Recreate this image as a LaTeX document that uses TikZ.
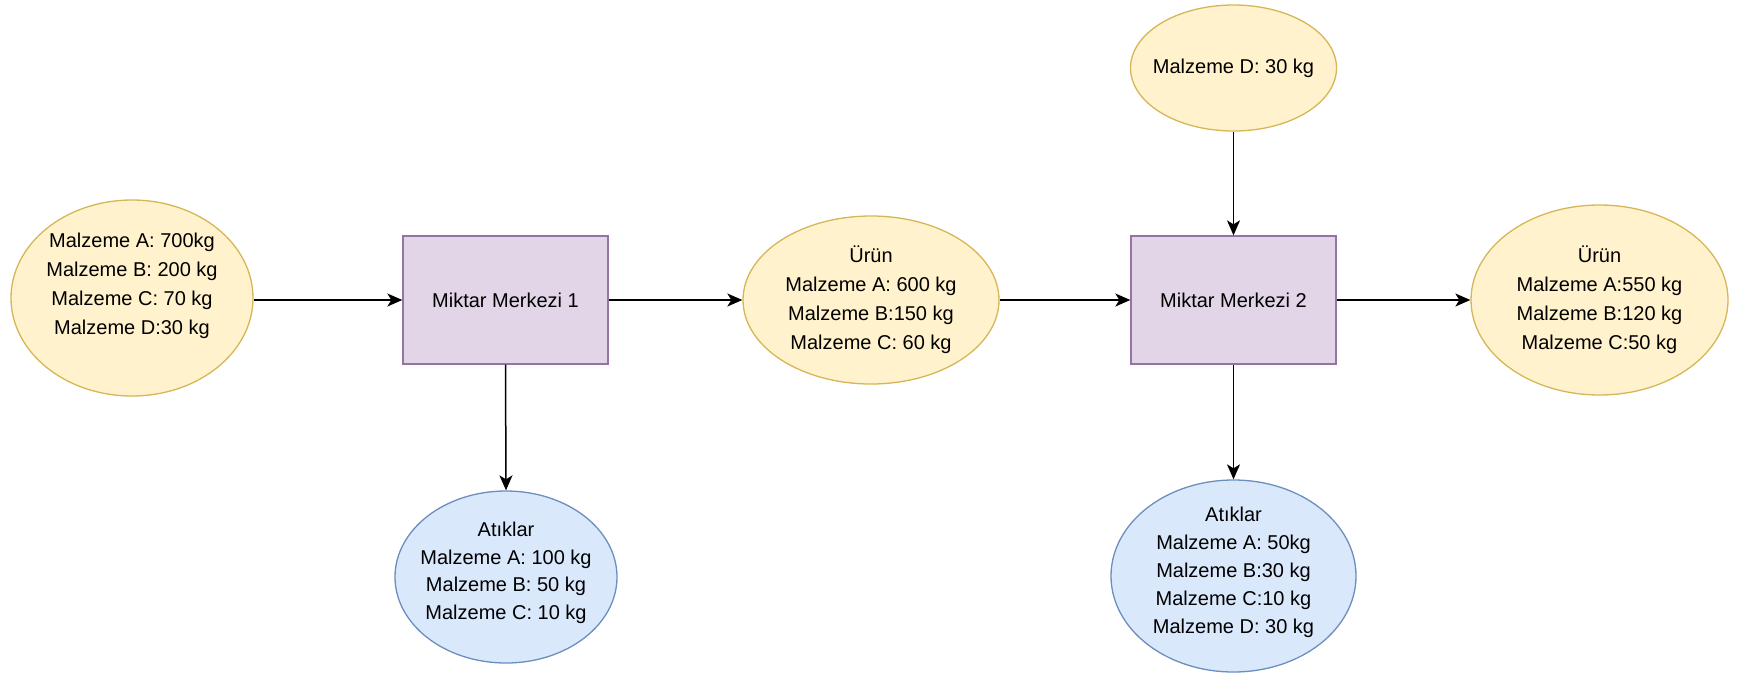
\documentclass[tikz,border=0pt]{standalone}
\usepackage{fontspec}
\setmainfont{Liberation Sans}
\usetikzlibrary{shapes.geometric,arrows.meta}

\definecolor{ylwfill}{HTML}{FFF2CC}
\definecolor{ylwline}{HTML}{D6B656}
\definecolor{prpfill}{HTML}{E1D5E7}
\definecolor{prpline}{HTML}{9673A6}
\definecolor{blufill}{HTML}{DAE8FC}
\definecolor{bluline}{HTML}{6C8EBF}

\tikzset{
  lbl/.style={font=\fontsize{20}{29}\selectfont, align=center, text=black},
  % negative inner sep lets the minimum size alone fix each ellipse
  flowell/.style={lbl, ellipse, inner sep=-40pt, line width=1.3pt},
  yell/.style={flowell, draw=ylwline, fill=ylwfill},
  bell/.style={flowell, draw=bluline, fill=blufill},
  center/.style={lbl, rectangle, draw=prpline, fill=prpfill, line width=1.3pt,
                 minimum width=205pt, minimum height=128pt, inner sep=0pt},
  flow/.style={line width=1.5pt, -{Stealth[length=15pt,width=13pt,inset=4pt]}}
}

\begin{document}
\begin{tikzpicture}[x=1pt,y=-1pt]
  \useasboundingbox (0,0) rectangle (1737,675);

  % raw material input
  \node[yell, minimum width=242pt, minimum height=196pt] (input) at (132,298)
    {Malzeme A: 700kg\\Malzeme B: 200 kg\\Malzeme C: 70 kg\\Malzeme D:30 kg\\[-9pt]\strut};

  % first processing centre and its outputs
  \node[center] (mm1) at (505.5,300) {Miktar Merkezi 1};
  \node[yell, minimum width=256pt, minimum height=168pt] (urun1) at (871,300)
    {Ürün\\Malzeme A: 600 kg\\Malzeme B:150 kg\\Malzeme C: 60 kg};
  \node[bell, minimum width=222pt, minimum height=172pt,
        font=\fontsize{20}{27.5}\selectfont] (atik1) at (506,577)
    {Atıklar\\Malzeme A: 100 kg\\Malzeme B: 50 kg\\Malzeme C: 10 kg\\[-23.5pt]\strut};

  % second processing centre, extra input and outputs
  \node[yell, minimum width=206pt, minimum height=126pt] (extra) at (1233.5,68)
    {Malzeme D: 30 kg};
  \node[center] (mm2) at (1233.5,300) {Miktar Merkezi 2};
  \node[yell, minimum width=257pt, minimum height=190pt] (urun2) at (1599.5,300)
    {Ürün\\Malzeme A:550 kg\\Malzeme B:120 kg\\Malzeme C:50 kg};
  \node[bell, minimum width=245pt, minimum height=192pt,
        font=\fontsize{20}{28}\selectfont] (atik2) at (1233.5,576)
    {Atıklar\\Malzeme A: 50kg\\Malzeme B:30 kg\\Malzeme C:10 kg\\Malzeme D: 30 kg\\[-24pt]\strut};

  % material flow
  \draw[flow] (input.east |- mm1.west) -- (mm1.west);
  \draw[flow] (mm1.east) -- (urun1.west);
  \draw[flow] (urun1.east) -- (mm2.west);
  \draw[flow] (mm2.east) -- (urun2.west);
  \draw[flow] (extra.south) -- (mm2.north);
  \draw[flow] (mm1.south) -- (atik1.north);
  \draw[flow] (mm2.south) -- (atik2.north);
\end{tikzpicture}
\end{document}
